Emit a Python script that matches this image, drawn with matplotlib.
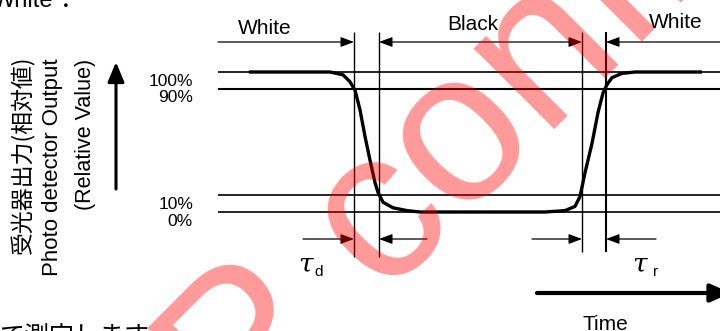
import matplotlib
matplotlib.use('Agg')
import matplotlib.pyplot as plt

plt.rcParams['font.family'] = ['Liberation Sans', 'Noto Sans CJK JP']

# photodetector output: time (arbitrary units), output (%)
wave_t = [249, 310, 330, 343, 350, 355, 360, 365, 370, 375, 378, 383, 393, 407, 420,
          545, 565, 575, 580, 585, 592, 598, 603, 607, 612, 622, 635, 702]
wave_v = [100, 100, 100, 98, 93, 87, 73, 54, 37, 21, 14, 7, 3, 1, 0,
          0, 1, 4, 11, 28, 49, 71, 85, 91, 96, 99, 100, 100]

# reference levels (drawn positions) and their labels
levels = [100, 88, 12, 0]
level_labels = ['100%', '90%', '10%', '0%']

# time markers: 90% fall, 10% fall, 10% rise, 90% rise
t_marks = [354, 379, 582, 606]
state_labels = ['White', 'Black', 'White']

fig = plt.figure(figsize=(7.2, 3.31), dpi=100)

# data axes: time vs output %
ax = fig.add_axes([0, 0, 1, 1])
ax.set_xlim(0, 720)
ax.set_ylim(-85, 151.43)
ax.axis('off')

# overlay in pixel units for the annotations
px = fig.add_axes([0, 0, 1, 1])
px.set_xlim(0, 720)
px.set_ylim(331, 0)
px.axis('off')
px.patch.set_alpha(0)

for v, lw in zip(levels, [1.2, 1.5, 1.2, 1.2]):
    ax.plot([218, 720], [v, v], color='black', lw=lw, solid_capstyle='butt')
for v, lab in zip(levels, level_labels):
    ax.annotate(lab, (193, v), xytext=(0, -6.5), textcoords='offset points',
                ha='right', va='center', fontsize=12.5)

ax.plot(wave_t, wave_v, color='black', lw=2.4, solid_joinstyle='round',
        solid_capstyle='butt')

# vertical time markers
for t, yb, lw in zip(t_marks, [257, 257, 252, 252], [1.0, 1.0, 1.0, 1.5]):
    px.plot([t, t], [32, yb], color='black', lw=lw, solid_capstyle='butt')


def arrow(ax_, tail, head, style='-|>', lw=0.9, hl=0.8, hw=0.3):
    ax_.annotate('', xy=head, xytext=tail, annotation_clip=False,
                 arrowprops=dict(arrowstyle=f'{style},head_length={hl},head_width={hw}',
                                 lw=lw, color='black', shrinkA=0, shrinkB=0,
                                 mutation_scale=10))


# top arrows
arrow(px, (218, 42), (t_marks[0], 42))
arrow(px, (t_marks[1], 42), (t_marks[2], 42), style='<|-|>')
arrow(px, (725, 42), (t_marks[3], 42))
px.text(265, 28, state_labels[0], ha='center', va='center', fontsize=15)
px.text(473, 25, state_labels[1], ha='center', va='center', fontsize=15)
px.text(676, 23, state_labels[2], ha='center', va='center', fontsize=15)

# bottom arrows
arrow(px, (303, 239), (t_marks[0], 239))
arrow(px, (427, 239), (t_marks[1], 239))
arrow(px, (532, 239), (t_marks[2], 239))
arrow(px, (656, 239), (t_marks[3], 239))

px.text(306, 264, 'τ', ha='center', va='center', fontsize=19,
        family='DejaVu Serif', style='italic')
px.text(319, 272, 'd', ha='center', va='center', fontsize=11)
px.text(640, 264, 'τ', ha='center', va='center', fontsize=19,
        family='DejaVu Serif', style='italic')
px.text(655.5, 272, 'r', ha='center', va='center', fontsize=11)

# axis arrows and titles
arrow(px, (116, 189), (116, 62), lw=2.2, hl=1.2, hw=0.5)
arrow(px, (537, 293), (731, 293), lw=3.0, hl=1.25, hw=0.55)
px.text(605, 315, 'Time', ha='center', va='top', fontsize=15)

px.text(23, 155, '受光器出力(相対値)', rotation=90, ha='center', va='center',
        fontsize=16.5, family=['Noto Sans CJK JP'])
px.text(53, 167, 'Photo detector Output', rotation=90, ha='center', va='center',
        fontsize=16)
px.text(85, 134, '(Relative Value)', rotation=90, ha='center', va='center',
        fontsize=15.5)

# clipped document text around the figure
px.text(-7, 7, 'White”．', ha='left', va='baseline', fontsize=17)
px.text(0, 325, 'て測定します。', ha='left', va='top', fontsize=18,
        family=['Noto Sans CJK JP'])

# watermark
wm = dict(rotation=45, rotation_mode='anchor', va='baseline', fontsize=155,
          color='red', alpha=0.4, zorder=20, family='Liberation Sans')
px.text(382, 293, 'confidential', ha='left', **wm)
px.text(339, 336, 'SHARP', ha='right', **wm)

fig.savefig('out.png', dpi=100)
